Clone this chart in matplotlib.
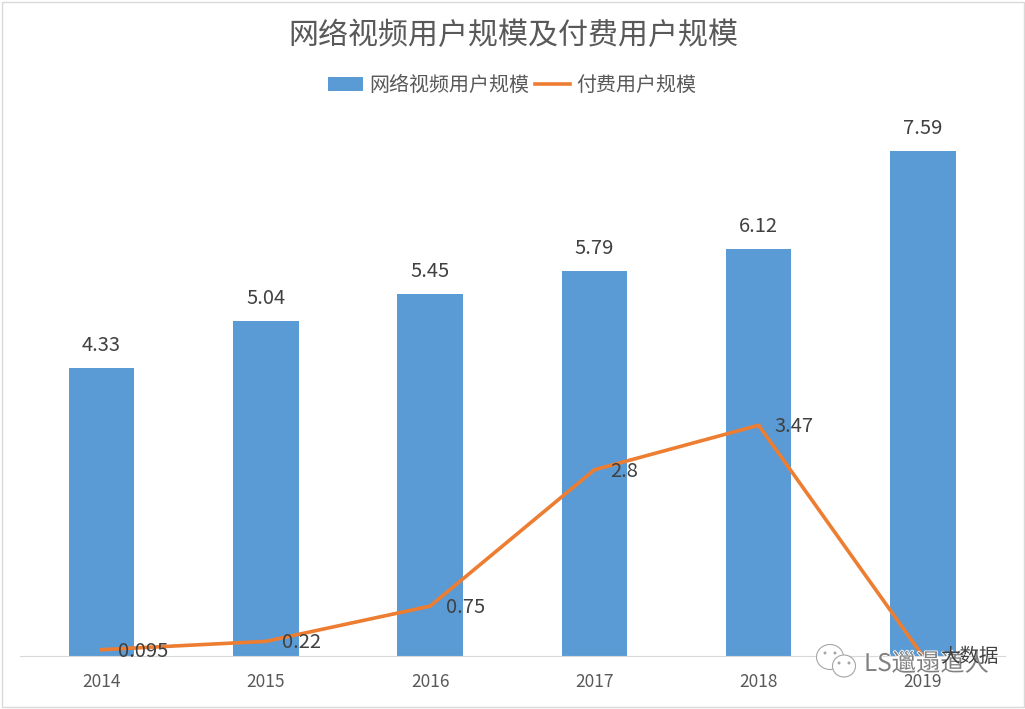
import matplotlib.pyplot as plt
import matplotlib.patheffects as pe
from matplotlib.patches import Ellipse, Rectangle
import numpy as np

plt.rcParams["font.family"] = ["Noto Sans CJK SC", "DejaVu Sans"]

years = ["2014", "2015", "2016", "2017", "2018", "2019"]
total_users = [4.33, 5.04, 5.45, 5.79, 6.12, 7.59]
paid_users = [0.095, 0.22, 0.75, 2.8, 3.47, 0]
paid_labels = ["0.095", "0.22", "0.75", "2.8", "3.47"]

BLUE = "#5B9BD5"
ORANGE = "#ED7D31"
W, H = 1025, 709

fig = plt.figure(figsize=(W / 100, H / 100), dpi=100)
ax = fig.add_axes([19.5 / W, 1 - 656 / H, (1005 - 19.5) / W, (656 - 108) / H])

# light frame around the whole chart
fig.add_artist(Rectangle((1.5 / W, 2.5 / H), (W - 3) / W, (H - 4) / H, transform=fig.transFigure,
                         fill=False, ec="#D9D9D9", lw=1))

x = np.arange(len(years))
bars = ax.bar(x, total_users, width=0.4, color=BLUE, label="网络视频用户规模")
line, = ax.plot(x, paid_users, color=ORANGE, lw=2.6, label="付费用户规模", solid_joinstyle="miter")

for xi, v in zip(x, total_users):
    ax.annotate(f"{v:.2f}", (xi, v), xytext=(0, 8.5), textcoords="offset points",
                ha="center", va="bottom", fontsize=14.5, color="#404040")
for xi, v, s in zip(x, paid_users, paid_labels):
    ax.annotate(s, (xi, v), xytext=(11.5, -1), textcoords="offset points",
                ha="left", va="center", fontsize=14.5, color="#404040")

ax.set_xlim(-0.5, 5.5)
ax.set_ylim(0, 8.24)
ax.set_xticks(x)
ax.set_xticklabels(years, fontsize=12.5, color="#595959")
ax.tick_params(axis="x", length=0, pad=12.5)
ax.set_yticks([])
for s in ["top", "left", "right"]:
    ax.spines[s].set_visible(False)
ax.spines["bottom"].set_color("#D9D9D9")

fig.text(513 / W, 1 - 35 / H, "网络视频用户规模及付费用户规模", ha="center", va="center",
         fontsize=21.6, color="#595959")
fig.legend(handles=[bars, line], loc="center", bbox_to_anchor=(512 / W, 1 - 85 / H), ncol=2,
           frameon=False, fontsize=14.4, labelcolor="#595959", columnspacing=0.25,
           handlelength=1.75, handletextpad=0.35)

# watermark on top of the chart
halo = [pe.withStroke(linewidth=1.2, foreground="white")]
for cx, cy, w, h in [(830, 657, 27, 25), (844, 666, 23, 22)]:
    fig.add_artist(Ellipse((cx / W, 1 - cy / H), w / W, h / H, transform=fig.transFigure,
                           fc="white", ec="#A6A6A6", lw=0.8))
for cx, cy in [(825, 653), (835, 653), (839, 663), (849, 663)]:
    fig.add_artist(Ellipse((cx / W, 1 - cy / H), 3 / W, 3 / H, transform=fig.transFigure,
                           fc="#A6A6A6", ec="none"))
fig.text(864 / W, 1 - 664 / H, "LS邋遢道人", ha="left", va="center", fontsize=17.5,
         color="#808080", path_effects=halo)
fig.text(940 / W, 1 - 656 / H, "大数据", ha="left", va="center", fontsize=14, color="#404040")

fig.savefig("out.png", dpi=100)
